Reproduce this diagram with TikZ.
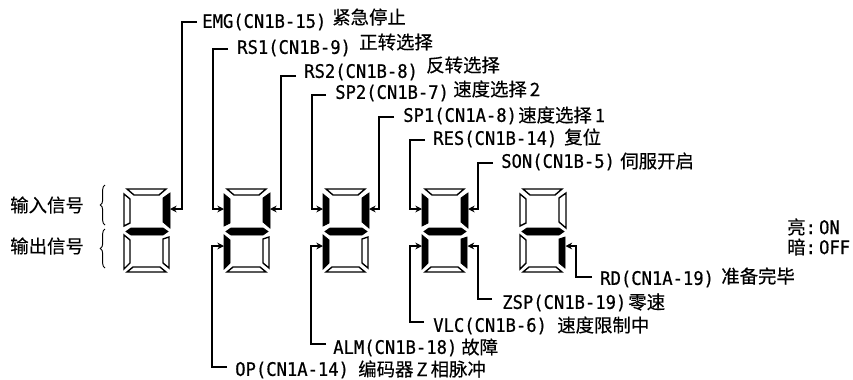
\documentclass[tikz,border=0pt]{standalone}
\usepackage{fontspec}
\setmainfont{DejaVu Sans Mono}[FakeStretch=0.92,FakeBold=0.6]
\newfontfamily\cjkfont{Noto Sans CJK SC}[FakeBold=0.35]
\newcommand{\sigsize}{\fontsize{14pt}{16pt}\selectfont}
\usetikzlibrary{arrows.meta,positioning,decorations.pathreplacing}
\tikzset{
  sigtext/.style={anchor=west,inner sep=0pt,font=\sigsize},
  cntext/.style={anchor=west,inner sep=0pt,font=\cjkfont\fontsize{13.8pt}{16pt}\selectfont},
  wire/.style={-{Stealth[length=5pt,width=5pt]},line width=0.8pt,black},
  bracket/.style={decorate,decoration={brace,amplitude=3.5pt},line width=0.7pt},
  segon/.style={fill=black,draw=black,line width=0.6pt,line join=miter},
  segoff/.style={fill=white,draw=black,line width=1.05pt},
  pics/digit/.style n args={7}{code={
    \draw[#1] (4,0) -- (43,0) -- (36,6) -- (11,6) -- cycle;
    \draw[#2] (1,5) -- (7,10) -- (7,34) -- (1,37) -- cycle;
    \draw[#3] (47,4) -- (40,9) -- (40,33) -- (47,39) -- cycle;
    \draw[#4] (3,42.5) -- (8,39) -- (40,39) -- (45,42.5) -- (40,46) -- (8,46) -- cycle;
    \draw[#5] (1,46) -- (7,51) -- (7,74) -- (1,80) -- cycle;
    \draw[#6] (46,48) -- (40,50) -- (40,74) -- (46,79) -- cycle;
    \draw[#7] (4,83) -- (43,83) -- (37,78) -- (10,78) -- cycle;
    \coordinate (ul) at (1,20);
    \coordinate (ur) at (47,20);
    \coordinate (ll) at (1,57);
    \coordinate (lr) at (46.5,57);
  }},
}
\begin{document}
\begin{tikzpicture}[x=0.75pt,y=-0.75pt]
\useasboundingbox (0,0) rectangle (853,379);

% digits
\pic (da) at (123,189) {digit={segoff}{segoff}{segon}{segon}{segoff}{segoff}{segoff}};
\pic (db) at (223,189) {digit={segoff}{segon}{segon}{segon}{segon}{segoff}{segoff}};
\pic (dc) at (322,189) {digit={segoff}{segon}{segon}{segon}{segon}{segoff}{segoff}};
\pic (dd) at (421,189) {digit={segoff}{segon}{segon}{segon}{segon}{segon}{segoff}};
\pic (de) at (519,189) {digit={segoff}{segoff}{segoff}{segon}{segoff}{segon}{segoff}};

% input labels
\node[sigtext] (emg) at (202,22) {EMG(CN1B-15)};
\node[cntext] (emgcn) at (332,17) {紧急停止};
\node[sigtext] (rsa) at (237,48) {RS1(CN1B-9)};
\node[cntext] (rsacn) at (359,42) {正转选择};
\node[sigtext] (rsb) at (304,72) {RS2(CN1B-8)};
\node[cntext] (rsbcn) at (426,65) {反转选择};
\node[sigtext] (spb) at (335,93) {SP2(CN1B-7)};
\node[cntext] (spbcn) at (453,89) {速度选择\,2};
\node[sigtext] (spa) at (403,116) {SP1(CN1A-8)};
\node[cntext] (spacn) at (518,115) {速度选择\,1};
\node[sigtext] (res) at (433,139) {RES(CN1B-14)};
\node[cntext] (rescn) at (564,137) {复位};
\node[sigtext] (son) at (501,162) {SON(CN1B-5)};
\node[cntext] (soncn) at (620,161) {伺服开启};

% output labels
\node[sigtext] (rd) at (600,279) {RD(CN1A-19)};
\node[cntext] (rdcn) at (721,276) {准备完毕};
\node[sigtext] (zsp) at (502,303) {ZSP(CN1B-19)};
\node[cntext] (zspcn) at (628,302) {零速};
\node[sigtext] (vlc) at (433,326) {VLC(CN1B-6)};
\node[cntext] (vlccn) at (557,325) {速度限制中};
\node[sigtext] (alm) at (333,348) {ALM(CN1B-18)};
\node[cntext] (almcn) at (461,347) {故障};
\node[sigtext] (op) at (235,370) {OP(CN1A-14)};
\node[cntext] (opcn) at (358,369) {编码器\,Z\,相脉冲};

% left side and legend
\node[cntext] (intxt) at (10,205) {输入信号};
\node[cntext] (outtxt) at (10,246) {输出信号};
\node[cntext] (ontxt) at (787,227) {亮{\normalfont\sigsize:\,ON}};
\node[cntext] (offtxt) at (787,247) {暗{\normalfont\sigsize:\,OFF}};
\draw[bracket] (105,225) -- (105,185);
\draw[bracket] (105,268) -- (105,229);

% wires
\coordinate (emgw) at (197,22);
\coordinate (rsaw) at (228,49);
\coordinate (rsbw) at (296,76);
\coordinate (spbw) at (326,95);
\coordinate (spaw) at (394,117);
\coordinate (resw) at (425,140);
\coordinate (sonw) at (493,163);
\coordinate (rdw) at (592,277);
\coordinate (zspw) at (492,299);
\coordinate (vlcw) at (424,322);
\coordinate (almw) at (326,344);
\coordinate (opw) at (227,367);

\draw[wire] (emgw) -- ++(-15,0) |- (daur);
\draw[wire] (rsaw) -- ++(-15,0) |- (dbul);
\draw[wire] (rsbw) -- ++(-15,0) |- (dbur);
\draw[wire] (spbw) -- ++(-14,0) |- (dcul);
\draw[wire] (spaw) -- ++(-15,0) |- (dcur);
\draw[wire] (resw) -- ++(-15,0) |- (ddul);
\draw[wire] (sonw) -- ++(-15,0) |- (ddur);
\draw[wire] (rdw) -- ++(-16,0) |- (delr);
\draw[wire] (zspw) -- ++(-14,0) |- (ddlr);
\draw[wire] (vlcw) -- ++(-14,0) |- (ddll);
\draw[wire] (almw) -- ++(-15,0) |- (dcll);
\draw[wire] (opw) -- ++(-15,0) |- (dbll);

\end{tikzpicture}
\end{document}
